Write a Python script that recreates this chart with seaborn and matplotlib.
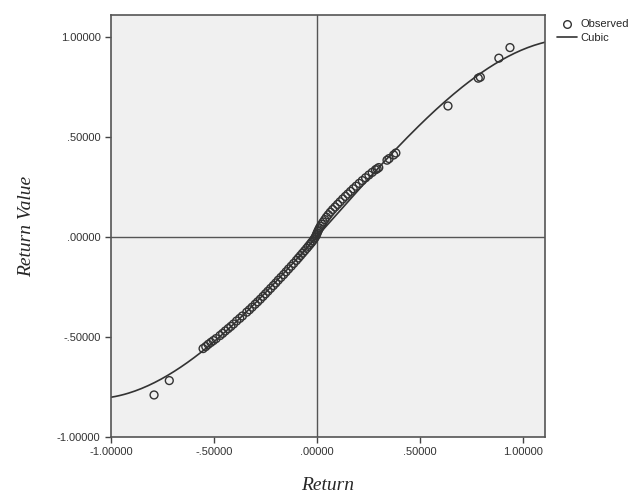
import numpy as np
import pandas as pd
import seaborn as sns
import matplotlib.pyplot as plt
from matplotlib.lines import Line2D
from matplotlib.ticker import FuncFormatter

# observed points (Return, Return Value)
ret_x = [-0.791, -0.717,
         -0.553, -0.540, -0.528, -0.515, -0.503, -0.490, -0.471, -0.458, -0.445, -0.431,
         -0.418, -0.405, -0.390, -0.375, -0.362, -0.341, -0.328, -0.315, -0.300, -0.288,
         -0.275, -0.262, -0.250, -0.238, -0.225, -0.212, -0.200, -0.188, -0.175, -0.162,
         -0.150, -0.138, -0.125, -0.113, -0.100, -0.090, -0.080, -0.070, -0.060, -0.050,
         -0.042, -0.034, -0.027, -0.020, -0.014, -0.009, -0.005, -0.002, 0.001, 0.004,
         0.008, 0.012, 0.017, 0.023, 0.030, 0.038, 0.046, 0.055, 0.065, 0.076,
         0.088, 0.100, 0.112, 0.125, 0.138, 0.150, 0.163, 0.176, 0.190, 0.205,
         0.220, 0.236, 0.252, 0.268, 0.284, 0.292, 0.300, 0.340, 0.350, 0.372, 0.383,
         0.636, 0.783, 0.793, 0.883, 0.937]
ret_value = [-0.790, -0.718,
             -0.558, -0.548, -0.537, -0.527, -0.518, -0.508, -0.493, -0.482, -0.470, -0.458,
             -0.447, -0.435, -0.420, -0.407, -0.395, -0.376, -0.364, -0.351, -0.336, -0.324,
             -0.311, -0.297, -0.284, -0.271, -0.257, -0.243, -0.230, -0.216, -0.202, -0.188,
             -0.174, -0.160, -0.146, -0.132, -0.117, -0.105, -0.093, -0.081, -0.069, -0.057,
             -0.047, -0.037, -0.028, -0.019, -0.010, -0.002, 0.006, 0.013, 0.020, 0.028,
             0.036, 0.045, 0.054, 0.064, 0.075, 0.087, 0.099, 0.111, 0.124, 0.137,
             0.150, 0.163, 0.176, 0.190, 0.203, 0.215, 0.228, 0.241, 0.254, 0.268,
             0.282, 0.296, 0.310, 0.323, 0.336, 0.341, 0.347, 0.384, 0.392, 0.410, 0.420,
             0.655, 0.794, 0.799, 0.894, 0.947]

# readings of the fitted cubic line (used to recover its coefficients)
curve_x = [-1.0, -0.717, -0.568, -0.30, 0.0, 0.29, 0.636, 0.79, 0.937, 1.099]
curve_y = [-0.800, -0.695, -0.573, -0.330, 0.0, 0.335, 0.695, 0.805, 0.918, 0.968]

x_ticks = [-1.0, -0.5, 0.0, 0.5, 1.0]
y_ticks = [-1.0, -0.5, 0.0, 0.5, 1.0]

df = pd.DataFrame({"Return": ret_x, "Return Value": ret_value})

sns.set_style("ticks")
plt.rcParams['font.family'] = ['Liberation Sans', 'DejaVu Sans']

fig = plt.figure(figsize=(6.42, 4.96), dpi=100)
ax = fig.add_axes([0.1729, 0.119, 0.6760, 0.8508])
ax.set_facecolor('#f0f0f0')
ax.set_xlim(-1.0, 1.107)
ax.set_ylim(-1.0, 1.11)

ax.axhline(0, color='#555555', lw=1.0, zorder=1)
ax.axvline(0, color='#555555', lw=1.0, zorder=1)

# cubic model line across the full x range
coef = np.polyfit(curve_x, curve_y, 3)
grid = np.linspace(-1.0, 1.107, 200)
fit = pd.DataFrame({"Return": grid, "Return Value": np.polyval(coef, grid)})
sns.lineplot(data=fit, x="Return", y="Return Value", ax=ax, color='#333333', lw=1.2, zorder=2)
sns.scatterplot(data=df, x="Return", y="Return Value", ax=ax, s=32, marker='o',
                facecolor='none', edgecolor='#333333', linewidth=1.0, zorder=3)


def fmt(v, pos):
    s = '%.5f' % v
    return s.replace('0.', '.', 1) if abs(v) < 1 else s


ax.set_xticks(x_ticks)
ax.set_yticks(y_ticks)
ax.xaxis.set_major_formatter(FuncFormatter(fmt))
ax.yaxis.set_major_formatter(FuncFormatter(fmt))
ax.tick_params(labelsize=8, length=4, width=1, color='#444444', labelcolor='#333333')
for sp in ax.spines.values():
    sp.set_color('#555555')
    sp.set_linewidth(1.2)

ax.set_xlabel('Return', family=['Liberation Serif'], style='italic', fontsize=14, labelpad=14)
ax.set_ylabel('Return Value', family=['Liberation Serif'], style='italic', fontsize=14, labelpad=16)

handles = [Line2D([], [], ls='none', marker='o', mfc='none', mec='#333333', ms=5.5),
           Line2D([], [], color='#333333', lw=1.2)]
ax.legend(handles, ['Observed', 'Cubic'], loc='upper left', bbox_to_anchor=(1.017, 1.0),
          frameon=False, fontsize=8, handlelength=1.8, handletextpad=0.3,
          labelspacing=0.3, borderaxespad=0.0)

fig.savefig('out.png', dpi=100)
